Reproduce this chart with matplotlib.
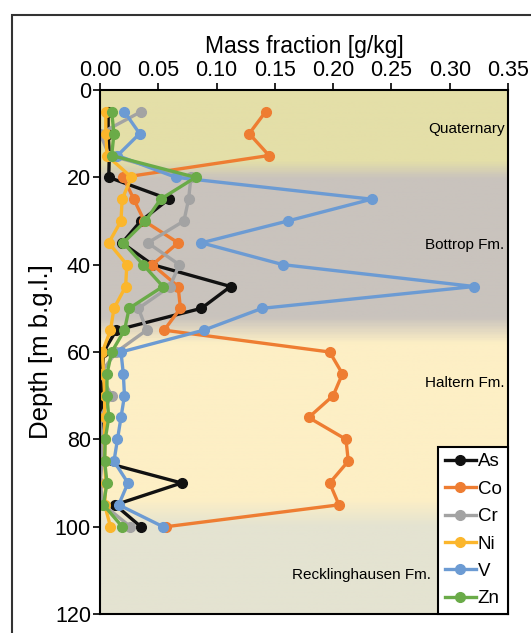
import numpy as np
import matplotlib
matplotlib.use("Agg")
import matplotlib.pyplot as plt
from matplotlib.colors import LinearSegmentedColormap
from matplotlib.patches import Rectangle

plt.rcParams['font.family'] = ['Liberation Sans', 'DejaVu Sans']

depth = [5, 10, 15, 20, 25, 30, 35, 40, 45, 50, 55, 60, 65, 70, 75, 80, 85, 90, 95, 100]

As = [0.007, 0.007, 0.008, 0.0075, 0.059, 0.035, 0.019, 0.045, 0.112, 0.087, 0.014, 0.003,
      0.002, 0.001, 0.002, 0.001, 0.0, 0.070, 0.013, 0.035]
Co = [0.142, 0.128, 0.145, 0.020, 0.029, 0.038, 0.067, 0.045, 0.067, 0.069, 0.055, 0.197,
      0.208, 0.200, 0.179, 0.211, 0.213, 0.197, 0.205, 0.057]
Cr = [0.035, 0.0, 0.008, 0.078, 0.076, 0.072, 0.041, 0.068, 0.060, 0.033, 0.040, 0.014,
      0.0, 0.010, 0.0, 0.002, 0.002, 0.0, 0.003, 0.026]
Ni = [0.005, 0.005, 0.006, 0.027, 0.019, 0.018, 0.0075, 0.023, 0.022, 0.012, 0.009, 0.002,
      0.003, 0.004, 0.004, 0.004, 0.004, 0.005, 0.004, 0.009]
V = [0.021, 0.034, 0.015, 0.065, 0.233, 0.161, 0.087, 0.157, 0.321, 0.139, 0.089, 0.018,
     0.020, 0.021, 0.018, 0.015, 0.012, 0.024, 0.016, 0.054]
Zn = [0.010, 0.012, 0.010, 0.082, 0.052, 0.039, 0.020, 0.037, 0.054, 0.025, 0.021, 0.010,
      0.006, 0.006, 0.0075, 0.0045, 0.004, 0.006, 0.003, 0.019]

series = [("As", As, "#111111"), ("Co", Co, "#ee7d32"), ("Cr", Cr, "#a3a3a3"),
          ("Ni", Ni, "#fbb62c"), ("V", V, "#6c9bd3"), ("Zn", Zn, "#6aab48")]

units = [("Quaternary", 9), ("Bottrop Fm.", 35.5), ("Haltern Fm.", 67), ("Recklinghausen Fm.", 111)]

fig = plt.figure(figsize=(5.31, 6.33), dpi=100)
ax = fig.add_axes([100/531, 1-614/633, 408/531, 524/633])

# background layers (gradient between units)
stops = [(0.0, "#e4dfa8"), (16/120, "#e4dfa8"), (20/120, "#c9c3bd"), (52/120, "#c9c3bd"),
         (58/120, "#fdefc5"), (94/120, "#fdefc5"), (100/120, "#e4e3d1"), (1.0, "#e4e3d1")]
cmap = LinearSegmentedColormap.from_list("layers", stops)
grad = np.linspace(0, 1, 600).reshape(-1, 1)
ax.imshow(grad, cmap=cmap, aspect="auto", extent=[0, 0.35, 120, 0], zorder=0)

for name, vals, col in series:
    ax.plot(vals, depth, "-o", color=col, lw=2.4, ms=7, label=name, zorder=2)

for name, d in units:
    x = 0.347 if name != "Recklinghausen Fm." else 0.284
    ax.text(x, d, name, ha="right", va="center", fontsize=11, zorder=3)

ax.set_xlim(0, 0.35)
ax.set_ylim(120, 0)
ax.xaxis.tick_top()
ax.xaxis.set_label_position("top")
ax.set_xticks(np.arange(0, 0.351, 0.05))
ax.set_xticklabels(["%.2f" % t for t in np.arange(0, 0.351, 0.05)])
ax.set_yticks(range(0, 121, 20))
ax.tick_params(labelsize=15.5, length=5, width=1.2, pad=1.5)
ax.set_xlabel("Mass fraction [g/kg]", fontsize=16.5, labelpad=5)
ax.set_ylabel("Depth [m b.g.l.]", fontsize=18.5, labelpad=1)
for s in ax.spines.values():
    s.set_linewidth(1.5)

leg = ax.legend(loc="lower right", fontsize=13.5, frameon=True, fancybox=False,
                edgecolor="black", framealpha=1, handlelength=1.65, handletextpad=0.1,
                borderpad=0.35, labelspacing=0.55, borderaxespad=0.0)
leg.get_frame().set_linewidth(1.5)

fig.patches.append(Rectangle((12/531, -0.1), 1.1, 1.1 - 15/633, transform=fig.transFigure,
                             fill=False, edgecolor="#333333", lw=1.5))

fig.savefig("out.png", dpi=100)
